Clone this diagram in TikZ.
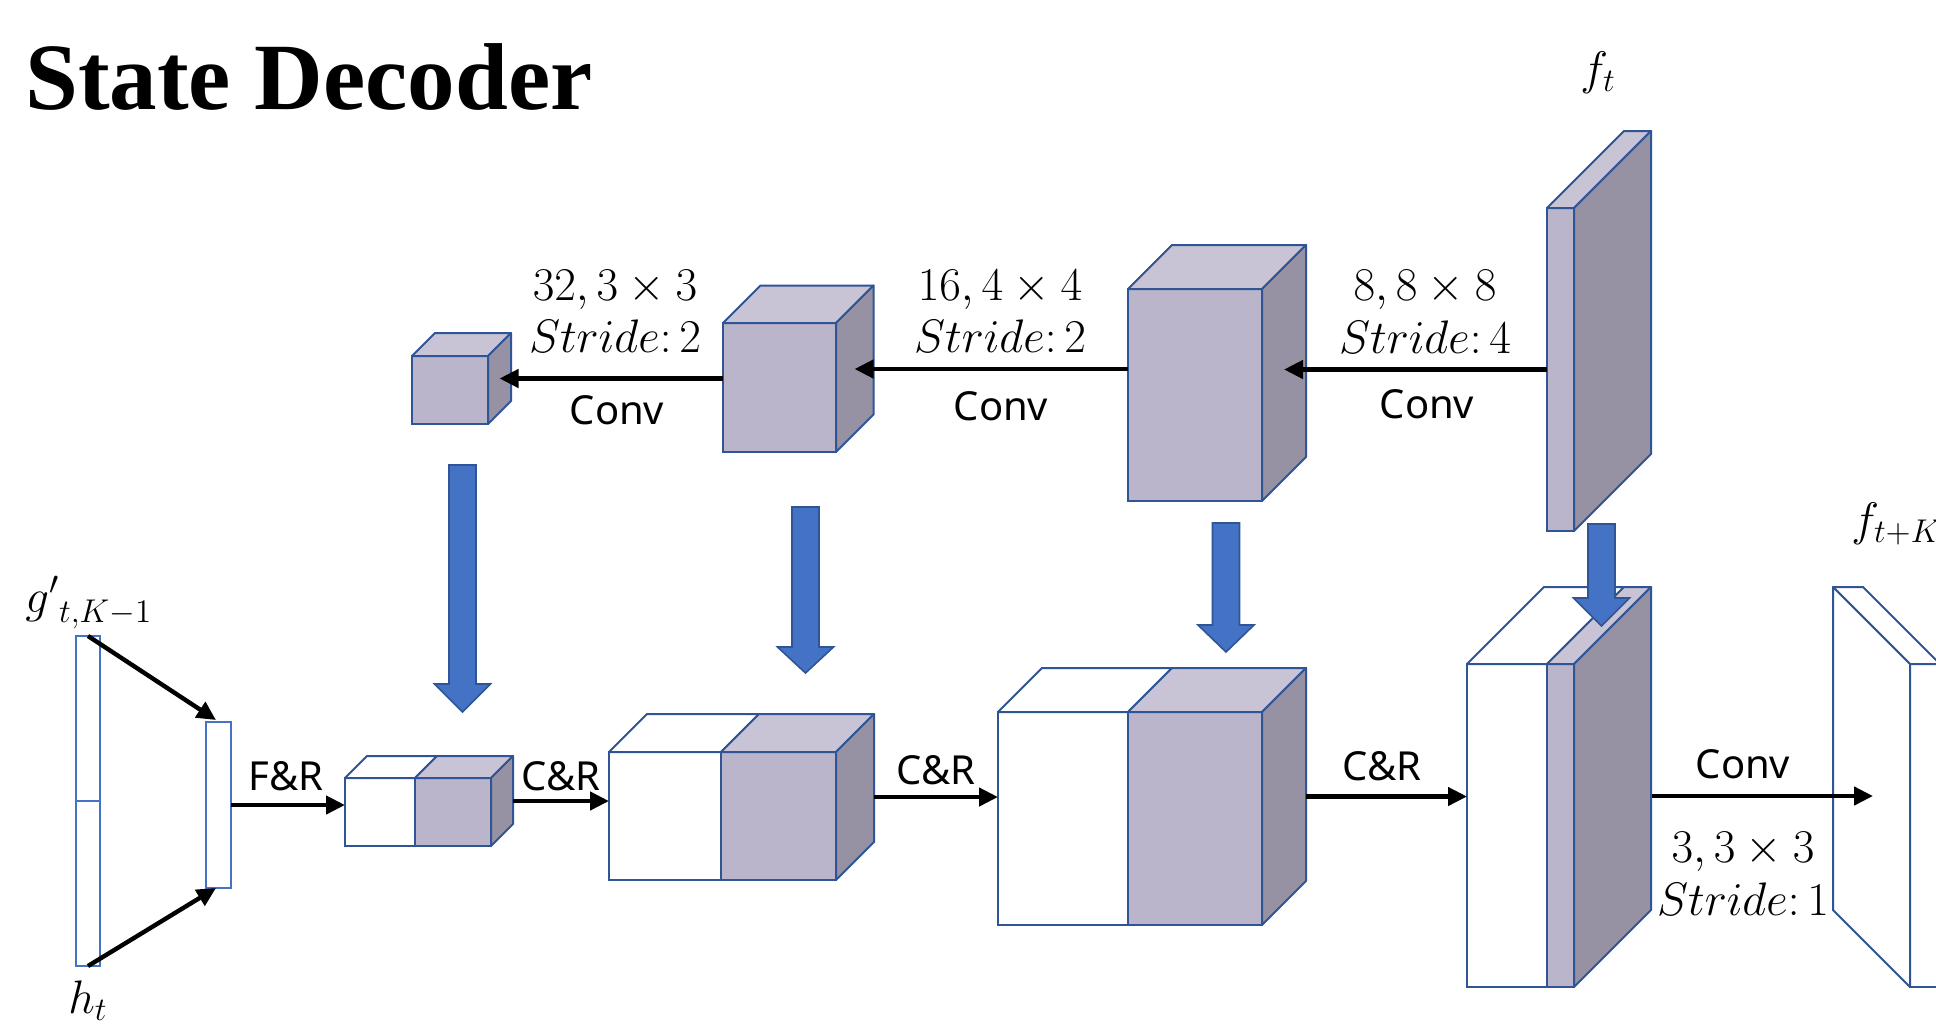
\RequirePackage{fix-cm}
\documentclass[tikz,border=0pt]{standalone}
\usepackage{fontspec}
\newfontfamily\titlefont{Liberation Serif}
\newfontfamily\labfont{Noto Sans}
\usetikzlibrary{fit,calc,arrows.meta}
\definecolor{edge}{HTML}{2F5597}
\definecolor{frontc}{HTML}{BAB5CA}
\definecolor{topc}{HTML}{C8C4D5}
\definecolor{sidec}{HTML}{9792A3}
\definecolor{barc}{HTML}{4472C4}
\definecolor{blockc}{HTML}{4472C4}
\newcommand{\frontbox}[6]{\node[fit={(#2,#3) (#4,#5)}, inner sep=0pt, outer sep=0pt, draw=edge, line width=1pt, fill=#6] (#1) {};}
\newcommand{\topface}[3]{\filldraw[fill=#3, draw=edge, line width=1pt, line join=round] (#1.north west) -- ++(#2,-#2) -- ($(#1.north east)+(#2,-#2)$) -- (#1.north east) -- cycle;}
\newcommand{\sideface}[3]{\filldraw[fill=#3, draw=edge, line width=1pt, line join=round] (#1.north east) -- ++(#2,-#2) -- ($(#1.south east)+(#2,-#2)$) -- (#1.south east) -- cycle;}
\newcommand{\bluearrow}[4]{\filldraw[blockarrow] (#1-13.5,#2) -- (#1+13.5,#2) -- (#1+13.5,#3) -- (#1+28,#3) -- (#1,#4) -- (#1-28,#3) -- (#1-13.5,#3) -- cycle;}
\tikzset{
  arr/.style={line width=2.2pt, -{Triangle[length=9.5pt,width=9pt]}},
  mlab/.style={inner sep=0pt, font=\fontsize{23.5}{26}\selectfont},
  sanslab/.style={inner sep=0pt, font=\labfont\fontsize{20}{24}\selectfont},
  blockarrow/.style={fill=blockc, draw=edge, line width=0.8pt},
  inbar/.style={draw=barc, fill=white, line width=1pt, inner sep=0pt, outer sep=0pt},
}
\begin{document}
\begin{tikzpicture}[x=0.5pt,y=-0.5pt]
\useasboundingbox (0,0) rectangle (1936,1024);
\fill[white] (0,0) rectangle (1936,1024);

% title
\node[anchor=base west, inner sep=0pt] (title) at (25,109) {\titlefont\bfseries\fontsize{47.5}{52}\selectfont State Decoder};

% ---------- top row ----------
\frontbox{ft}{1547}{208}{1574}{531}{frontc}
\topface{ft}{77}{topc}
\sideface{ft}{77}{sidec}

\frontbox{c3}{1128}{289}{1262}{501}{frontc}
\topface{c3}{44}{topc}
\sideface{c3}{44}{sidec}

\frontbox{c2}{723}{323}{836}{452}{frontc}
\topface{c2}{37.5}{topc}
\sideface{c2}{37.5}{sidec}

\frontbox{c1}{412}{356}{488}{424}{frontc}
\topface{c1}{23}{topc}
\sideface{c1}{23}{sidec}

\coordinate (c3s) at ($(c3.east)+(22,-22)$);
\coordinate (c2s) at ($(c2.east)+(18.5,-18.5)$);
\coordinate (c1s) at ($(c1.east)+(11.5,-11.5)$);
\draw[arr] (ft.west) -- (ft.west -| c3s);
\draw[arr] (c3.west |- c2s) -- (c2s);
\draw[arr] (c2.west |- c1s) -- (c1s);

% top labels
\node[mlab, anchor=base] (k1) at (615,300) {$32, 3\times 3$};
\node[mlab, anchor=base] (s1) at (615,352) {$Stride\colon 2$};
\node[sanslab, anchor=base] (v1) at (617,424) {Conv};
\node[mlab, anchor=base] (k2) at (1000,300) {$16, 4\times 4$};
\node[mlab, anchor=base] (s2) at (1000,352) {$Stride\colon 2$};
\node[sanslab, anchor=base] (v2) at (1001,420) {Conv};
\node[mlab, anchor=base] (k3) at (1425,300) {$8, 8\times 8$};
\node[mlab, anchor=base] (s3) at (1425,353) {$Stride\colon 4$};
\node[sanslab, anchor=base] (v3) at (1427,418) {Conv};
\node[mlab, anchor=base] (ftl) at (1598,84) {$f_t$};

% ---------- inputs ----------
\node[inbar, fit={(76,636) (100,801)}] (gbar) {};
\node[inbar, fit={(76,801) (100,966)}] (hbar) {};
\node[inbar, fit={(206,722) (231,888)}] (sbar) {};
\node[mlab, anchor=base west] (gl) at (25,612) {${g'}_{t,K-1}$};
\node[mlab, anchor=base west] (hl) at (68,1013) {$h_t$};
\draw[arr] (gbar.north) -- ($(sbar.north west)+(10,-2)$);
\draw[arr] (hbar.south) -- ($(sbar.south west)+(10,0)$);

% ---------- bottom row ----------
\frontbox{b1w}{345}{778}{415}{846}{white}
\topface{b1w}{22}{white}
\frontbox{b1p}{415}{778}{491}{846}{frontc}
\topface{b1p}{22}{topc}
\sideface{b1p}{22}{sidec}

\frontbox{b2w}{609}{752}{721}{880}{white}
\topface{b2w}{38}{white}
\frontbox{b2p}{721}{752}{836}{880}{frontc}
\topface{b2p}{38}{topc}
\sideface{b2p}{38}{sidec}

\frontbox{b3w}{998}{712}{1128}{925}{white}
\topface{b3w}{44}{white}
\frontbox{b3p}{1128}{712}{1262}{925}{frontc}
\topface{b3p}{44}{topc}
\sideface{b3p}{44}{sidec}

\frontbox{b4w}{1467}{664}{1547}{987}{white}
\topface{b4w}{77}{white}
\frontbox{b4p}{1547}{664}{1574}{987}{frontc}
\topface{b4p}{77}{topc}
\sideface{b4p}{77}{sidec}

% output slab (partly outside the picture)
\node[fit={(1910,664) (1940,987)}, inner sep=0pt, outer sep=0pt, draw=edge, line width=1pt, fill=white] (out) {};
\filldraw[fill=white, draw=edge, line width=1pt, line join=round] (out.north west) -- ++(-77,-77) -- ++(30,0) -- (out.north east) -- cycle;
\filldraw[fill=white, draw=edge, line width=1pt, line join=round] (out.north west) -- ++(-77,-77) -- ++(0,323) -- (out.south west) -- cycle;
\coordinate (fin) at ($(out.west)+(-37,-29.5)$);
\node[mlab, anchor=base west] (ftkl) at (1851,535) {$f_{t+K}$};

% bottom connectors
\draw[arr] (sbar.east) -- (sbar.east -| b1w.west);
\coordinate (b1o) at ($(b1p.east)+(22,-11)$);
\draw[arr] (b1o) -- (b1o -| b2w.west);
\coordinate (b2o) at ($(b2p.east)+(38,-19)$);
\draw[arr] (b2o) -- (b2o -| b3w.west);
\coordinate (b3o) at ($(b3p.east)+(44,-22)$);
\draw[arr] (b3o) -- (b3o -| b4w.west);
\draw[arr] (fin -| b4p.east) ++(78,0) -- (fin);

% bottom labels
\node[sanslab, anchor=base] (fr) at (286,790) {F\&R};
\node[sanslab, anchor=base] (cr1) at (561,790) {C\&R};
\node[sanslab, anchor=base] (cr2) at (936,784) {C\&R};
\node[sanslab, anchor=base] (cr3) at (1382,780) {C\&R};
\node[sanslab, anchor=base] (v4) at (1743,778) {Conv};
\node[mlab, anchor=base] (k4) at (1743,862) {$3, 3\times 3$};
\node[mlab, anchor=base] (s4) at (1743,915) {$Stride\colon 1$};

% block arrows
\bluearrow{462.5}{465}{684}{712}
\bluearrow{805.5}{507}{647}{673}
\bluearrow{1226}{523}{625}{652}
\bluearrow{1601.5}{524}{598}{626}
\end{tikzpicture}
\end{document}
